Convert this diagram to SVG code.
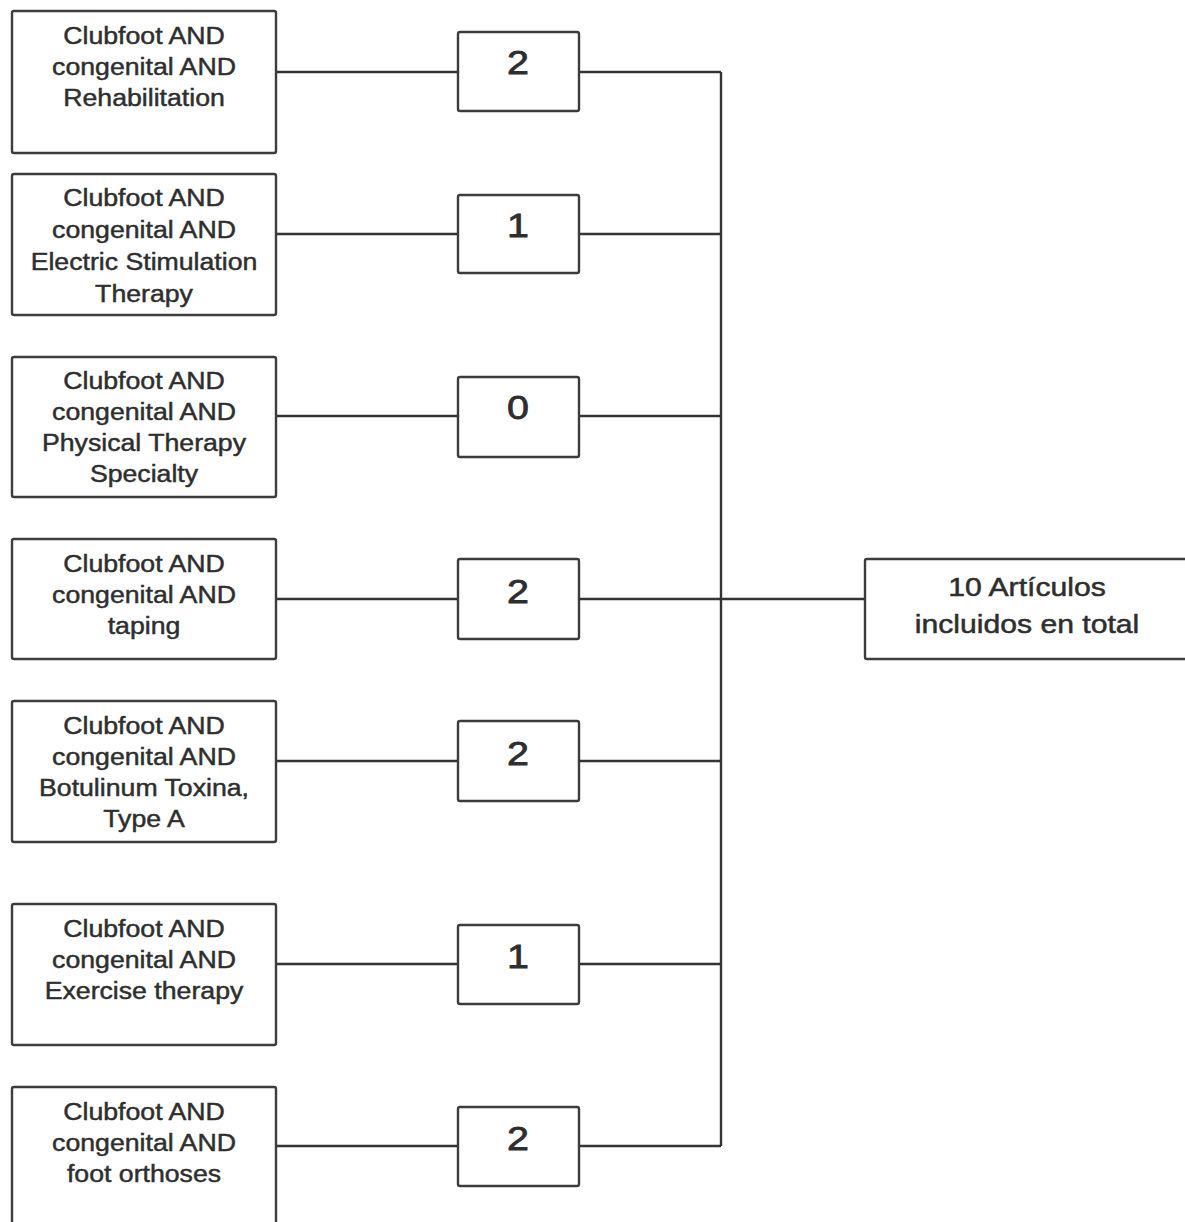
<svg xmlns="http://www.w3.org/2000/svg" width="1185" height="1222" viewBox="0 0 1185 1222">
<style>
.box{fill:#ffffff;stroke:#3c3c3c;stroke-width:2.4}
.lbl{font-family:"Liberation Sans",Arial,sans-serif;font-size:23px;fill:#2e2e2e;stroke:#2e2e2e;stroke-width:0.45;text-anchor:middle}
.num{font-family:"Liberation Sans",Arial,sans-serif;font-size:34px;fill:#2e2e2e;stroke:#2e2e2e;stroke-width:0.8;text-anchor:middle}
.tot{font-family:"Liberation Sans",Arial,sans-serif;font-size:26px;fill:#2e2e2e;stroke:#2e2e2e;stroke-width:0.5;text-anchor:middle}
.ln{fill:none;stroke:#333333;stroke-width:2.4}
</style>
<rect x="0" y="0" width="1185" height="1222" fill="#ffffff"/>
<g id="connectors">
<path class="ln" d="M277 72H458M277 234H458M277 416H458M277 599H458M277 761H458M277 964H458M277 1146H458"/>
<path class="ln" d="M579 72H721M579 234H721M579 416H721M579 599H721M579 761H721M579 964H721M579 1146H721"/>
<path class="ln" d="M721 72V1146M721 599H865"/>
</g>
<g id="q1"><rect class="box" x="12" y="11" width="264" height="142" rx="2"/>
<text class="lbl" transform="translate(144 44) scale(1.16 1)"><tspan x="0" y="0">Clubfoot AND</tspan><tspan x="0" dy="31">congenital AND</tspan><tspan x="0" dy="31">Rehabilitation</tspan></text></g>
<g id="q2"><rect class="box" x="12" y="174" width="264" height="141" rx="2"/>
<text class="lbl" transform="translate(144 206) scale(1.16 1)"><tspan x="0" y="0">Clubfoot AND</tspan><tspan x="0" dy="32">congenital AND</tspan><tspan x="0" dy="32">Electric Stimulation</tspan><tspan x="0" dy="32">Therapy</tspan></text></g>
<g id="q3"><rect class="box" x="12" y="357" width="264" height="140" rx="2"/>
<text class="lbl" transform="translate(144 389) scale(1.16 1)"><tspan x="0" y="0">Clubfoot AND</tspan><tspan x="0" dy="31">congenital AND</tspan><tspan x="0" dy="31">Physical Therapy</tspan><tspan x="0" dy="31">Specialty</tspan></text></g>
<g id="q4"><rect class="box" x="12" y="539" width="264" height="120" rx="2"/>
<text class="lbl" transform="translate(144 572) scale(1.16 1)"><tspan x="0" y="0">Clubfoot AND</tspan><tspan x="0" dy="31">congenital AND</tspan><tspan x="0" dy="31">taping</tspan></text></g>
<g id="q5"><rect class="box" x="12" y="701" width="264" height="141" rx="2"/>
<text class="lbl" transform="translate(144 734) scale(1.16 1)"><tspan x="0" y="0">Clubfoot AND</tspan><tspan x="0" dy="31">congenital AND</tspan><tspan x="0" dy="31">Botulinum Toxina,</tspan><tspan x="0" dy="31">Type A</tspan></text></g>
<g id="q6"><rect class="box" x="12" y="904" width="264" height="141" rx="2"/>
<text class="lbl" transform="translate(144 937) scale(1.16 1)"><tspan x="0" y="0">Clubfoot AND</tspan><tspan x="0" dy="31">congenital AND</tspan><tspan x="0" dy="31">Exercise therapy</tspan></text></g>
<g id="q7"><rect class="box" x="12" y="1087" width="264" height="145" rx="2"/>
<text class="lbl" transform="translate(144 1120) scale(1.16 1)"><tspan x="0" y="0">Clubfoot AND</tspan><tspan x="0" dy="31">congenital AND</tspan><tspan x="0" dy="31">foot orthoses</tspan></text></g>
<g id="n1"><rect class="box" x="458" y="32" width="121" height="79" rx="2"/><text class="num" transform="translate(518 74) scale(1.16 1)">2</text></g>
<g id="n2"><rect class="box" x="458" y="195" width="121" height="78" rx="2"/><text class="num" transform="translate(518 237) scale(1.16 1)">1</text></g>
<g id="n3"><rect class="box" x="458" y="377" width="121" height="80" rx="2"/><text class="num" transform="translate(518 419) scale(1.16 1)">0</text></g>
<g id="n4"><rect class="box" x="458" y="559" width="121" height="80" rx="2"/><text class="num" transform="translate(518 603) scale(1.16 1)">2</text></g>
<g id="n5"><rect class="box" x="458" y="721" width="121" height="80" rx="2"/><text class="num" transform="translate(518 765) scale(1.16 1)">2</text></g>
<g id="n6"><rect class="box" x="458" y="925" width="121" height="79" rx="2"/><text class="num" transform="translate(518 968) scale(1.16 1)">1</text></g>
<g id="n7"><rect class="box" x="458" y="1107" width="121" height="79" rx="2"/><text class="num" transform="translate(518 1150) scale(1.16 1)">2</text></g>
<g id="total"><rect class="box" x="865" y="559" width="330" height="100" rx="2"/>
<text class="tot" transform="translate(1027 596) scale(1.16 1)"><tspan x="0" y="0">10 Artículos</tspan><tspan x="0" dy="37">incluidos en total</tspan></text></g>
</svg>
